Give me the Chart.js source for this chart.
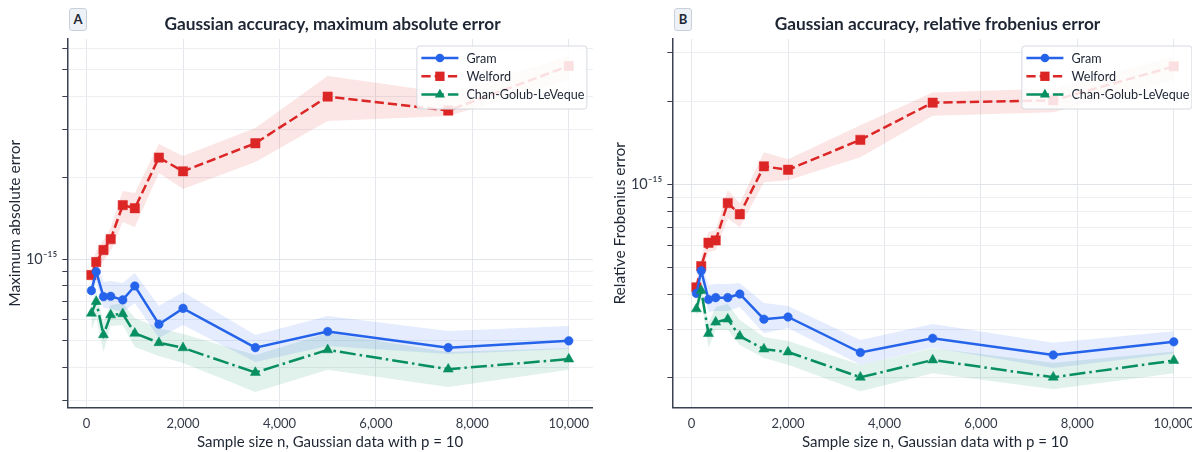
<!DOCTYPE html>
<html>
<head>
<meta charset="utf-8">
<script src="https://cdn.jsdelivr.net/npm/chart.js@4.4.1/dist/chart.umd.min.js"></script>
<style>
  html, body { margin: 0; padding: 0; background: #ffffff; overflow: hidden; }
  #wrap { position: relative; width: 1192px; height: 452px; overflow: hidden; background: #fff; }
  .panel { position: absolute; top: 0; width: 600px; height: 452px; }
  .panel canvas { position: absolute; left: 0; top: 0; }
  .title { position: absolute; left: 67px; width: 531px; top: 12px; height: 24px; line-height: 24px;
           text-align: center; font-family: Lato, sans-serif; font-weight: 700; font-size: 17.3px; color: #1e2533; white-space: nowrap; }
  .badge { position: absolute; left: 69px; top: 8px; width: 16px; height: 21px; line-height: 21px; text-align: center;
           font-family: Lato, sans-serif; font-weight: 700; font-size: 13px; color: #1e2533;
           background: #eef2f7; border: 1px solid #c8d0db; border-radius: 3px; }
</style>
</head>
<body>
<div id="wrap">
  <div class="panel" style="left:0px">
    <canvas id="chartA" width="600" height="452"></canvas>
    <div class="badge">A</div>
    <div class="title">Gaussian accuracy, maximum absolute error</div>
  </div>
  <div class="panel" style="left:605px">
    <canvas id="chartB" width="600" height="452"></canvas>
    <div class="badge">B</div>
    <div class="title">Gaussian accuracy, relative frobenius error</div>
  </div>
</div>
<script>
// ---------- data ----------
const sampleSizes = [100, 200, 350, 500, 750, 1000, 1500, 2000, 3500, 5000, 7500, 10000];
const seriesNames = ['Gram', 'Welford', 'Chan-Golub-LeVeque'];
const xTicks = [0, 2000, 4000, 6000, 8000, 10000];

// Panel A: maximum absolute error
const maxAbsGram      = [7.66e-16, 9.00e-16, 7.28e-16, 7.30e-16, 7.08e-16, 7.97e-16, 5.76e-16, 6.59e-16, 4.72e-16, 5.41e-16, 4.72e-16, 5.00e-16];
const maxAbsGramLow   = [7.20e-16, 8.25e-16, 6.61e-16, 6.56e-16, 6.39e-16, 6.90e-16, 5.12e-16, 5.72e-16, 4.18e-16, 4.79e-16, 4.47e-16, 4.67e-16];
const maxAbsGramHigh  = [8.25e-16, 9.77e-16, 8.25e-16, 8.32e-16, 8.18e-16, 8.90e-16, 6.73e-16, 7.58e-16, 5.26e-16, 6.18e-16, 5.44e-16, 5.67e-16];
const maxAbsWelford     = [8.75e-16, 9.77e-16, 1.082e-15, 1.186e-15, 1.584e-15, 1.543e-15, 2.373e-15, 2.112e-15, 2.680e-15, 3.985e-15, 3.540e-15, 5.168e-15];
const maxAbsWelfordLow  = [8.10e-16, 8.98e-16, 9.86e-16, 1.073e-15, 1.373e-15, 1.316e-15, 2.082e-15, 1.817e-15, 2.286e-15, 3.238e-15, 3.379e-15, 4.588e-15];
const maxAbsWelfordHigh = [9.45e-16, 1.073e-15, 1.178e-15, 1.305e-15, 1.787e-15, 1.757e-15, 2.664e-15, 2.405e-15, 3.052e-15, 4.747e-15, 4.109e-15, 5.626e-15];
const maxAbsCGL      = [6.32e-16, 6.98e-16, 5.26e-16, 6.23e-16, 6.29e-16, 5.33e-16, 4.92e-16, 4.71e-16, 3.82e-16, 4.63e-16, 3.93e-16, 4.28e-16];
const maxAbsCGLLow   = [5.48e-16, 6.07e-16, 4.55e-16, 5.67e-16, 5.72e-16, 4.75e-16, 4.40e-16, 4.14e-16, 3.24e-16, 3.91e-16, 3.38e-16, 3.91e-16];
const maxAbsCGLHigh  = [6.90e-16, 7.64e-16, 5.87e-16, 6.78e-16, 6.90e-16, 6.07e-16, 5.58e-16, 5.30e-16, 4.43e-16, 5.35e-16, 4.55e-16, 4.71e-16];
const maxAbsTicks = [3e-16, 4e-16, 5e-16, 6e-16, 7e-16, 8e-16, 9e-16, 1e-15, 2e-15, 3e-15, 4e-15, 5e-15, 6e-15];
const maxAbsRange = [2.833e-16, 6.50e-15];

// Panel B: relative Frobenius error
const relFroGram      = [4.04e-16, 4.88e-16, 3.84e-16, 3.90e-16, 3.90e-16, 4.02e-16, 3.26e-16, 3.32e-16, 2.47e-16, 2.78e-16, 2.42e-16, 2.70e-16];
const relFroGramLow   = [3.82e-16, 4.44e-16, 3.46e-16, 3.49e-16, 3.49e-16, 3.61e-16, 2.90e-16, 3.03e-16, 2.23e-16, 2.57e-16, 2.17e-16, 2.45e-16];
const relFroGramHigh  = [4.29e-16, 5.24e-16, 4.33e-16, 4.37e-16, 4.37e-16, 4.40e-16, 3.73e-16, 3.64e-16, 2.74e-16, 3.13e-16, 2.68e-16, 2.95e-16];
const relFroWelford     = [4.25e-16, 5.07e-16, 6.16e-16, 6.28e-16, 8.57e-16, 7.81e-16, 1.164e-15, 1.131e-15, 1.451e-15, 1.977e-15, 2.015e-15, 2.674e-15];
const relFroWelfordLow  = [4.05e-16, 4.75e-16, 5.70e-16, 5.79e-16, 7.55e-16, 7.01e-16, 1.019e-15, 1.036e-15, 1.255e-15, 1.772e-15, 1.824e-15, 2.380e-15];
const relFroWelfordHigh = [4.48e-16, 5.46e-16, 6.73e-16, 6.84e-16, 9.54e-16, 8.56e-16, 1.308e-15, 1.234e-15, 1.637e-15, 2.154e-15, 2.227e-15, 2.905e-15];
const relFroCGL      = [3.55e-16, 4.14e-16, 2.89e-16, 3.18e-16, 3.26e-16, 2.83e-16, 2.54e-16, 2.48e-16, 2.01e-16, 2.32e-16, 2.01e-16, 2.31e-16];
const relFroCGLLow   = [3.29e-16, 3.82e-16, 2.57e-16, 2.98e-16, 2.98e-16, 2.63e-16, 2.36e-16, 2.23e-16, 1.79e-16, 2.08e-16, 1.82e-16, 2.08e-16];
const relFroCGLHigh  = [3.82e-16, 4.40e-16, 3.16e-16, 3.61e-16, 3.70e-16, 3.24e-16, 2.81e-16, 2.72e-16, 2.23e-16, 2.56e-16, 2.27e-16, 2.49e-16];
const relFroTicks = [2e-16, 3e-16, 4e-16, 5e-16, 6e-16, 7e-16, 8e-16, 9e-16, 1e-15, 2e-15, 3e-15];
const relFroRange = [1.56e-16, 3.36e-15];

// ---------- styling ----------
const FONT = 'Lato';
const TEXT = '#1e2533';
const TICK_TEXT = '#343b48';
const AXIS = '#3a4150';
const styles = [
  { color: '#2563eb', band: 'rgba(37,99,235,0.12)',  dash: [],              pointStyle: 'circle',   radius: 4.3, order: 2 },
  { color: '#dc2626', band: 'rgba(220,38,38,0.12)',  dash: [9.25, 4],       pointStyle: 'rect',     radius: 6.6, order: 3 },
  { color: '#078f60', band: 'rgba(7,143,96,0.12)',   dash: [16, 4, 2.5, 4], pointStyle: 'triangle', radius: 5.8, order: 1 }
];

Chart.defaults.font.family = FONT;

function pts(arr) { return sampleSizes.map((n, i) => ({ x: n, y: arr[i] })); }

function drawMarker(ctx, style, x, y) {
  const r = style.radius;
  ctx.beginPath();
  if (style.pointStyle === 'circle') {
    ctx.arc(x, y, r, 0, Math.PI * 2);
  } else if (style.pointStyle === 'rect') {
    const s = r * Math.SQRT1_2;
    ctx.rect(x - s, y - s, 2 * s, 2 * s);
  } else {
    ctx.moveTo(x, y - r);
    ctx.lineTo(x + r * Math.sin(2 * Math.PI / 3), y - r * Math.cos(2 * Math.PI / 3));
    ctx.lineTo(x + r * Math.sin(4 * Math.PI / 3), y - r * Math.cos(4 * Math.PI / 3));
    ctx.closePath();
  }
  ctx.fillStyle = style.color;
  ctx.fill();
}

const boxLegend = {
  id: 'boxLegend',
  afterDatasetsDraw(chart) {
    const ctx = chart.ctx, a = chart.chartArea;
    const w = 170, h = 63;
    const x0 = a.right - 6.5 - w, y0 = a.top + 6.5;
    ctx.save();
    ctx.beginPath();
    ctx.roundRect(x0 + 0.5, y0 + 0.5, w, h, 3);
    ctx.fillStyle = 'rgba(255,255,255,0.86)';
    ctx.fill();
    ctx.strokeStyle = '#d5d9e0';
    ctx.lineWidth = 1;
    ctx.stroke();
    seriesNames.forEach((name, i) => {
      const s = styles[i];
      const y = y0 + 12.5 + i * 18.3;
      ctx.strokeStyle = s.color;
      ctx.lineWidth = 2.5;
      ctx.setLineDash(s.dash);
      ctx.beginPath();
      ctx.moveTo(x0 + 5, y);
      ctx.lineTo(x0 + 42, y);
      ctx.stroke();
      ctx.setLineDash([]);
      drawMarker(ctx, s, x0 + 23.5, y);
      ctx.fillStyle = TEXT;
      ctx.font = '12.6px ' + FONT;
      ctx.textBaseline = 'middle';
      ctx.textAlign = 'left';
      ctx.fillText(name, x0 + 50, y + 0.5);
    });
    ctx.restore();
  }
};

function makeChart(id, series, yTicks, yRange, yTitle) {
  const datasets = [];
  series.forEach((s, i) => {
    const st = styles[i];
    datasets.push({ data: pts(s.low), borderWidth: 0, pointRadius: 0, fill: false, order: 10 + i, borderColor: 'transparent' });
    datasets.push({ data: pts(s.high), borderWidth: 0, pointRadius: 0, fill: '-1', backgroundColor: st.band, order: 10 + i, borderColor: 'transparent' });
  });
  series.forEach((s, i) => {
    const st = styles[i];
    datasets.push({
      label: seriesNames[i],
      data: pts(s.mid),
      borderColor: st.color,
      backgroundColor: st.color,
      borderWidth: 2.5,
      borderDash: st.dash,
      pointStyle: st.pointStyle,
      pointRadius: st.radius,
      pointBackgroundColor: st.color,
      pointBorderColor: st.color,
      pointBorderWidth: 0.5,
      fill: false,
      tension: 0,
      order: st.order
    });
  });
  return new Chart(document.getElementById(id), {
    type: 'line',
    data: { datasets },
    plugins: [boxLegend],
    options: {
      responsive: false,
      animation: false,
      events: [],
      layout: { padding: { left: 0, right: 2.5, top: 39, bottom: 0 } },
      plugins: { legend: { display: false }, tooltip: { enabled: false }, title: { display: false } },
      scales: {
        x: {
          type: 'linear', min: -400, max: 10500,
          afterBuildTicks: (s) => { s.ticks = xTicks.map(v => ({ value: v })); },
          afterFit: (s) => { s.height = 44.3; },
          ticks: { callback: (v) => Number(v).toLocaleString('en-US'), font: { size: 13 }, color: TICK_TEXT, padding: 8.5, maxRotation: 0, autoSkip: false },
          grid: { color: '#e4e7eb', lineWidth: 1, drawTicks: false },
          border: { display: true, color: AXIS, width: 1.5 },
          title: { display: true, text: 'Sample size n, Gaussian data with p = 10', font: { size: 15 }, color: TEXT, padding: { top: 0, bottom: 1 } }
        },
        y: {
          type: 'logarithmic', min: yRange[0], max: yRange[1],
          afterBuildTicks: (s) => { s.ticks = yTicks.map(v => ({ value: v })); },
          afterFit: (s) => { s.width = 67.3; },
          ticks: { callback: (v) => (v === 1e-15 ? '10\u207B\u00B9\u2075' : ''), font: { size: 14.5 }, color: TICK_TEXT, padding: 5, autoSkip: false },
          grid: {
            color: (c) => (c.tick && c.tick.value === 1e-15 ? '#e0e3e8' : '#eceef2'),
            lineWidth: 1, drawTicks: true, tickLength: 5, tickColor: AXIS, tickWidth: 1
          },
          border: { display: true, color: AXIS, width: 1.5 },
          title: { display: true, text: yTitle, font: { size: 15.5 }, color: TEXT, padding: { top: 5.7, bottom: 0 } }
        }
      }
    }
  });
}

makeChart('chartA', [
  { mid: maxAbsGram, low: maxAbsGramLow, high: maxAbsGramHigh },
  { mid: maxAbsWelford, low: maxAbsWelfordLow, high: maxAbsWelfordHigh },
  { mid: maxAbsCGL, low: maxAbsCGLLow, high: maxAbsCGLHigh }
], maxAbsTicks, maxAbsRange, 'Maximum absolute error');

makeChart('chartB', [
  { mid: relFroGram, low: relFroGramLow, high: relFroGramHigh },
  { mid: relFroWelford, low: relFroWelfordLow, high: relFroWelfordHigh },
  { mid: relFroCGL, low: relFroCGLLow, high: relFroCGLHigh }
], relFroTicks, relFroRange, 'Relative Frobenius error');
</script>
</body>
</html>
